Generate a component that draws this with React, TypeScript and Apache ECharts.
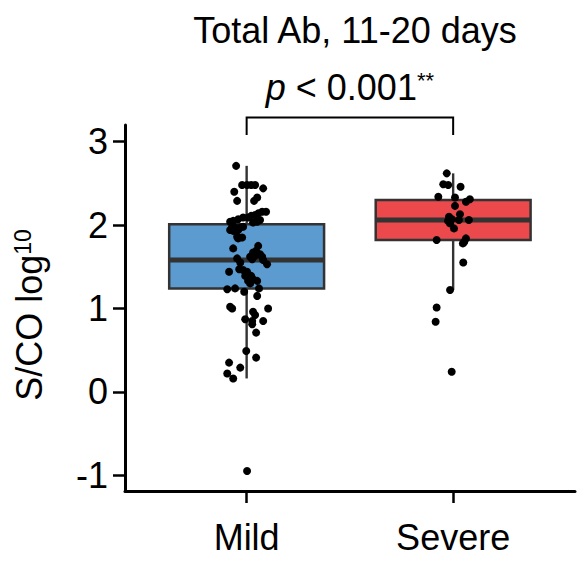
import React, { useEffect, useRef } from "react";
import * as echarts from "echarts";

// ---------- data ----------
const categories = ["Mild", "Severe"];
const yTicks = [-1, 0, 1, 2, 3];
const title = "Total Ab, 11-20 days";

// box statistics: [lower whisker, Q1, median, Q3, upper whisker]
const mildBox = [0.16, 1.24, 1.58, 2.01, 2.71];
const severeBox = [1.22, 1.82, 2.06, 2.3, 2.62];
const boxColors = ["#5B9BCF", "#EB494C"];

const mildValues = [
  2.71, 2.48, 2.48, 2.48, 2.48, 2.44, 2.4, 2.33, 2.29, 2.29,
  2.16, 2.16, 2.14, 2.12, 2.11, 2.09, 2.09, 2.07, 2.05, 2.04,
  2.04, 2.06, 2.03, 1.98, 1.97, 1.97, 1.98, 1.94, 1.93, 1.94,
  1.86, 1.85, 1.84, 1.72, 1.75, 1.69, 1.67, 1.65, 1.63, 1.62,
  1.58, 1.53, 1.62, 1.59, 1.6, 1.55, 1.44, 1.47, 1.46, 1.44,
  1.39, 1.39, 1.33, 1.35, 1.33, 1.3, 1.23, 1.24, 1.2, 1.24,
  1.15, 1.02, 1.0, 1.0, 0.96, 0.92, 0.87, 0.85, 0.85, 0.81,
  0.71, 0.49, 0.41, 0.35, 0.29, 0.22, 0.16, -0.95,
];
const mildJitter = [
  -0.051, -0.022, 0.002, 0.022, 0.041, 0.08, -0.06, 0.051, 0.036, -0.046,
  0.075, 0.094, 0.056, 0.041, 0.022, -0.017, 0.007, -0.041, -0.065, -0.08,
  0.051, 0.065, 0.031, -0.07, -0.056, -0.031, -0.017, -0.08, -0.065, -0.041,
  -0.046, -0.022, -0.041, -0.065, 0.056, 0.046, 0.031, 0.065, 0.041, 0.075,
  0.08, 0.099, 0.017, 0.027, -0.046, -0.031, -0.085, -0.036, -0.017, 0.002,
  -0.007, 0.022, 0.007, 0.031, 0.051, 0.017, -0.094, -0.056, -0.012, 0.06,
  0.051, -0.08, -0.07, 0.104, 0.031, 0.041, -0.007, 0.027, 0.08, 0.027,
  0.046, -0.002, 0.046, -0.085, -0.031, -0.094, -0.065, 0.002,
];
const severeValues = [
  2.62, 2.49, 2.48, 2.46, 2.34, 2.33, 2.31, 2.28, 2.23, 2.13,
  2.1, 2.07, 2.05, 2.06, 2.06, 2.02, 1.96, 1.82, 1.84, 1.8,
  1.78, 1.55, 1.22, 1.01, 0.84, 0.24,
];
const severeJitter = [
  -0.031, -0.048, -0.024, 0.036, -0.072, 0.009, 0.081, 0.062, 0.009, 0.033,
  -0.02, -0.006, -0.025, 0.028, 0.076, -0.015, 0.004, -0.08, 0.062, 0.054,
  0.047, 0.049, -0.015, -0.08, -0.085, -0.007,
];

// significance bracket (y of leg ends, y of bar) and its label
const bracketY = [3.08, 3.29];
const pLabel = "{i|p} < 0.001{s|**}";

const FONT = "'Liberation Sans', Arial, Helvetica, sans-serif";
const FS = 36;
const BOX_HALF = 0.375;

export default function App() {
  const ref = useRef<HTMLDivElement>(null);

  useEffect(() => {
    if (!ref.current) return;
    const chart = echarts.init(ref.current, null, { renderer: "svg" });

    const boxData = [
      [1, ...mildBox],
      [2, ...severeBox],
    ];
    const mildPts = mildValues.map((v, i) => [1 + mildJitter[i], v]);
    const severePts = severeValues.map((v, i) => [2 + severeJitter[i], v]);

    const option: any = {
      animation: false,
      backgroundColor: "#ffffff",
      title: {
        text: title,
        left: 350,
        top: 7,
        textAlign: "center",
        textStyle: {
          fontFamily: FONT,
          fontSize: FS,
          fontWeight: "normal",
          color: "#000",
        },
      },
      grid: { left: 125, top: 125, width: 450, height: 366, containLabel: false },
      xAxis: {
        type: "value",
        min: 0.411,
        max: 2.59,
        splitLine: { show: false },
        axisLine: { show: true, onZero: false, lineStyle: { color: "#000", width: 3 } },
        axisTick: {
          show: true,
          length: 12,
          customValues: [1, 2],
          lineStyle: { color: "#000", width: 2.5 },
        },
        axisLabel: {
          customValues: [1, 2],
          formatter: (v: number) => categories[Math.round(v) - 1] ?? "",
          fontFamily: FONT,
          fontSize: FS,
          color: "#000",
          margin: 28,
        },
      },
      yAxis: {
        type: "value",
        min: -1.19,
        max: 3.2,
        splitLine: { show: false },
        axisLine: { show: true, onZero: false, lineStyle: { color: "#000", width: 3 } },
        axisTick: {
          show: true,
          length: 12,
          customValues: yTicks,
          lineStyle: { color: "#000", width: 2.5 },
        },
        axisLabel: {
          customValues: yTicks,
          fontFamily: FONT,
          fontSize: FS,
          color: "#000",
          margin: 17,
        },
        name: "{a|S/CO log}{s|10}",
        nameLocation: "middle",
        nameRotate: 90,
        nameGap: 78,
        nameTextStyle: {
          fontFamily: FONT,
          fontSize: FS,
          color: "#000",
          padding: [0, 14, 0, 0],
          rich: {
            a: { fontFamily: FONT, fontSize: FS, color: "#000" },
            s: { fontFamily: FONT, fontSize: 23, color: "#000", verticalAlign: "top" },
          },
        },
      },
      series: [
        {
          type: "custom",
          name: "box",
          data: boxData,
          encode: { x: 0, y: [1, 2, 3, 4, 5] },
          z: 2,
          renderItem: (params: any, api: any) => {
            const x = api.value(0);
            const low = api.value(1);
            const q1 = api.value(2);
            const med = api.value(3);
            const q3 = api.value(4);
            const high = api.value(5);
            const c = api.coord([x, med]);
            const pHigh = api.coord([x, high]);
            const pLow = api.coord([x, low]);
            const tl = api.coord([x - BOX_HALF, q3]);
            const br = api.coord([x + BOX_HALF, q1]);
            const pQ3 = api.coord([x, q3]);
            const pQ1 = api.coord([x, q1]);
            const color = boxColors[params.dataIndex];
            const lineStyle = { stroke: "#333333", lineWidth: 2.4 };
            return {
              type: "group",
              children: [
                { type: "line", shape: { x1: c[0], y1: pHigh[1], x2: c[0], y2: pQ3[1] }, style: lineStyle },
                { type: "line", shape: { x1: c[0], y1: pLow[1], x2: c[0], y2: pQ1[1] }, style: lineStyle },
                {
                  type: "rect",
                  shape: { x: tl[0], y: tl[1], width: br[0] - tl[0], height: br[1] - tl[1] },
                  style: { fill: color, stroke: "#333333", lineWidth: 2.5 },
                },
                {
                  type: "line",
                  shape: { x1: tl[0], y1: c[1], x2: br[0], y2: c[1] },
                  style: { stroke: "#333333", lineWidth: 5 },
                },
              ],
            };
          },
        },
        {
          type: "scatter",
          name: "Mild",
          data: mildPts,
          symbol: "circle",
          symbolSize: 8,
          itemStyle: { color: "#000", opacity: 1 },
          z: 5,
        },
        {
          type: "scatter",
          name: "Severe",
          data: severePts,
          symbol: "circle",
          symbolSize: 8,
          itemStyle: { color: "#000", opacity: 1 },
          z: 5,
        },
        {
          type: "custom",
          name: "bracket",
          clip: false,
          data: [[1, 2, bracketY[0], bracketY[1]]],
          encode: { x: [0, 1], y: [2, 3] },
          z: 6,
          renderItem: (params: any, api: any) => {
            const a = api.coord([api.value(0), api.value(2)]);
            const b = api.coord([api.value(0), api.value(3)]);
            const c = api.coord([api.value(1), api.value(3)]);
            const d = api.coord([api.value(1), api.value(2)]);
            return {
              type: "group",
              children: [
                {
                  type: "polyline",
                  shape: { points: [a, b, c, d] },
                  style: { stroke: "#000", lineWidth: 2, fill: "none" },
                },
                {
                  type: "text",
                  x: (b[0] + c[0]) / 2,
                  y: b[1] - 12,
                  style: {
                    text: pLabel,
                    align: "center",
                    verticalAlign: "bottom",
                    fontFamily: FONT,
                    fontSize: FS,
                    fill: "#000",
                    rich: {
                      i: { fontFamily: FONT, fontSize: FS, fontStyle: "italic", fill: "#000" },
                      s: { fontFamily: FONT, fontSize: 22, fill: "#000", verticalAlign: "top" },
                    },
                  },
                },
              ],
            };
          },
        },
      ],
    };

    chart.setOption(option);
    return () => {
      chart.dispose();
    };
  }, []);

  return (
    <div
      ref={ref}
      style={{ position: "absolute", left: 0, top: 0, width: 578, height: 562, background: "#fff" }}
    />
  );
}
